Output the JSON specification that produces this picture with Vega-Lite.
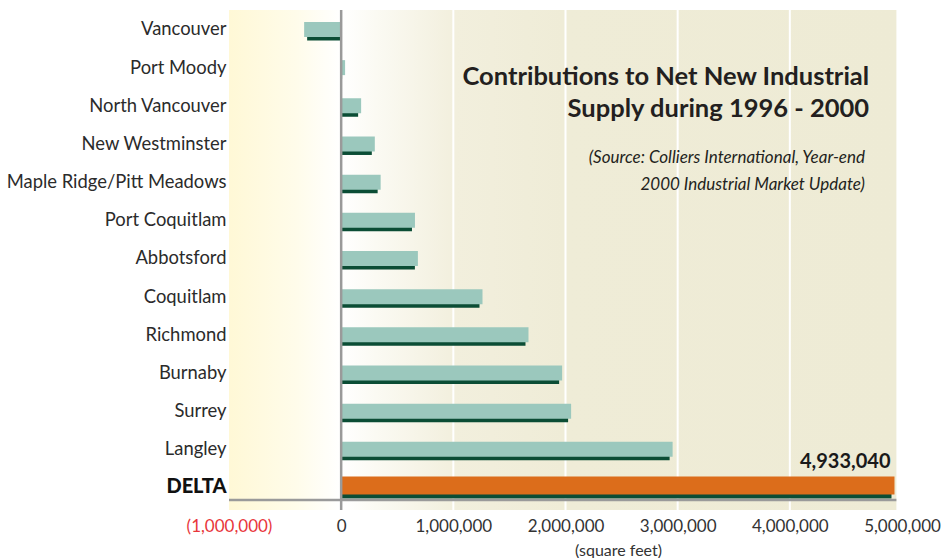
{
  "$schema": "https://vega.github.io/schema/vega-lite/v6.json",
  "autosize": "none",
  "width": 673,
  "height": 500,
  "padding": {"left": 229, "top": 10, "right": 43, "bottom": 48},
  "background": "white",
  "config": {"view": {"stroke": null}, "font": "Lato"},
  "data": {"values": [
    {"city": "Vancouver", "sqft": -330000},
    {"city": "Port Moody", "sqft": 35000},
    {"city": "North Vancouver", "sqft": 178000},
    {"city": "New Westminster", "sqft": 300000},
    {"city": "Maple Ridge/Pitt Meadows", "sqft": 352000},
    {"city": "Port Coquitlam", "sqft": 658000},
    {"city": "Abbotsford", "sqft": 684000},
    {"city": "Coquitlam", "sqft": 1260000},
    {"city": "Richmond", "sqft": 1670000},
    {"city": "Burnaby", "sqft": 1970000},
    {"city": "Surrey", "sqft": 2050000},
    {"city": "Langley", "sqft": 2955000},
    {"city": "DELTA", "sqft": 4933040}
  ]},
  "encoding": {
    "y": {
      "field": "city", "type": "nominal", "sort": null,
      "scale": {"paddingInner": 0, "paddingOuter": 0.05, "align": 0.1},
      "axis": {
        "title": null, "domain": false, "ticks": false, "labelPadding": 3, "labelLimit": 400,
        "labelFontSize": {"condition": {"test": "datum.value === 'DELTA'", "value": 20}, "value": 18.4},
        "labelFontWeight": {"condition": {"test": "datum.value === 'DELTA'", "value": "900"}, "value": "normal"},
        "labelColor": {"condition": {"test": "datum.value === 'DELTA'", "value": "#111111"}, "value": "#2b2b2b"}
      }
    }
  },
  "layer": [
    {
      "data": {"values": [{"k": 1}]},
      "mark": {"type": "rect", "color": {"gradient": "linear", "x1": 0, "x2": 1, "y1": 0, "y2": 0,
        "stops": [
          {"offset": 0, "color": "#FFF8D6"},
          {"offset": 0.1, "color": "#FFFCEA"},
          {"offset": 0.168, "color": "#FFFFFF"},
          {"offset": 0.22, "color": "#FBFAF3"},
          {"offset": 0.34, "color": "#F2EFDD"},
          {"offset": 0.5, "color": "#EFECD7"},
          {"offset": 1, "color": "#EEEBD5"}
        ]}},
      "encoding": {
        "x": {"datum": -1000000, "type": "quantitative",
          "scale": {"domain": [-1000000, 5000000], "nice": false},
          "axis": {
            "values": [-1000000, 0, 1000000, 2000000, 3000000, 4000000, 5000000],
            "labelExpr": "datum.value < 0 ? '(' + format(-datum.value, ',') + ')' : format(datum.value, ',')",
            "labelColor": {"condition": {"test": "datum.value < 0", "value": "#E8363B"}, "value": "#333333"},
            "labelFontSize": 17, "labelPadding": 8, "labelFlush": false,
            "domain": false, "ticks": false, "grid": false,
            "title": "(square feet)", "titleFontSize": 16, "titleFontWeight": "normal", "titleColor": "#333333",
            "titleX": 389, "titleY": 45, "titleBaseline": "alphabetic"
          }
        },
        "x2": {"datum": 4950000},
        "y": null
      }
    },
    {
      "data": {"values": [{"tick": 1000000}, {"tick": 2000000}, {"tick": 3000000}, {"tick": 4000000}]},
      "mark": {"type": "rule", "color": "#FFFFFF", "strokeWidth": 2},
      "encoding": {"x": {"field": "tick", "type": "quantitative"}, "y": null}
    },
    {
      "mark": {"type": "bar", "size": 15, "yOffset": 3.5, "xOffset": {"expr": "datum.sqft < 0 ? 3 : -3"}, "x2Offset": 0, "color": "#0B4D35"},
      "encoding": {"x": {"field": "sqft", "type": "quantitative"}, "x2": {"datum": 0}}
    },
    {
      "transform": [{"filter": "datum.city !== 'DELTA'"}],
      "mark": {"type": "bar", "size": 15, "color": "#9BC8BD"},
      "encoding": {"x": {"field": "sqft", "type": "quantitative"}}
    },
    {
      "transform": [{"filter": "datum.city === 'DELTA'"}],
      "mark": {"type": "bar", "size": 18, "yOffset": -2, "color": "#DC6D1B"},
      "encoding": {"x": {"field": "sqft", "type": "quantitative"}}
    },
    {
      "transform": [{"filter": "datum.city === 'DELTA'"}],
      "mark": {"type": "text", "align": "right", "baseline": "middle", "dx": -4, "dy": -25, "fontSize": 20, "fontWeight": "bold", "color": "#1a1a1a"},
      "encoding": {"x": {"field": "sqft", "type": "quantitative"}, "text": {"field": "sqft", "type": "quantitative", "format": ","}}
    },
    {
      "data": {"values": [{"k": 1}]},
      "mark": {"type": "rule", "color": "#9A9A9A", "strokeWidth": 2.5, "yOffset": 12.5},
      "encoding": {"x": {"datum": -1000000}, "x2": {"datum": 4950000}, "y": {"datum": "DELTA"}}
    },
    {
      "data": {"values": [{"k": 1}]},
      "mark": {"type": "rule", "color": "#9A9A9A", "strokeWidth": 2.5},
      "encoding": {"x": {"datum": 0}, "y": null}
    },
    {
      "data": {"values": [{"k": 1}]},
      "mark": {"type": "text", "align": "right", "baseline": "alphabetic", "dy": 17, "fontSize": 25.5, "fontWeight": "bold", "lineHeight": 32, "color": "#231F20"},
      "encoding": {"x": {"datum": 4707000}, "y": {"datum": "Port Moody"}, "text": {"value": ["Contributions to Net New Industrial", "Supply during 1996 - 2000"]}}
    },
    {
      "data": {"values": [{"k": 1}]},
      "mark": {"type": "text", "align": "right", "baseline": "alphabetic", "dy": 19, "fontSize": 17, "fontStyle": "italic", "lineHeight": 27, "color": "#231F20"},
      "encoding": {"x": {"datum": 4670000}, "y": {"datum": "New Westminster"}, "text": {"value": ["(Source: Colliers International, Year-end", "2000 Industrial Market Update)"]}}
    }
  ]
}
